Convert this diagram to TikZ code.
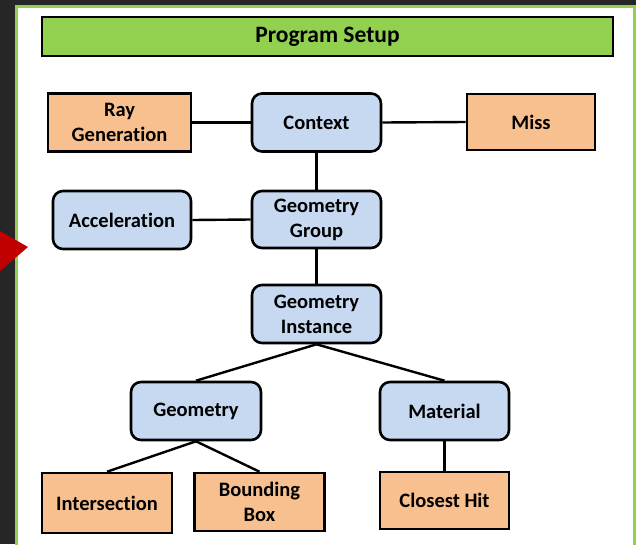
\documentclass[tikz,border=0pt]{standalone}
\usepackage{fontspec}
\setmainfont[Ligatures=NoCommon]{Carlito}
\definecolor{pagebg}{HTML}{262626}
\definecolor{framegreen}{HTML}{92D050}
\definecolor{boxorange}{HTML}{F9C08F}
\definecolor{boxblue}{HTML}{C6D9F0}
\definecolor{arrowred}{HTML}{C00000}
\begin{document}
\begin{tikzpicture}[x=1pt,y=-1pt,
  base/.style={draw=black, line width=2.6pt, inner sep=0pt, align=center,
    font=\fontsize{20.5}{25}\selectfont\bfseries},
  callbox/.style={base, fill=boxorange},
  objbox/.style={base, fill=boxblue, rounded corners=10pt},
  link/.style={line width=2.4pt, draw=black}]
% page and framed panel
\fill[pagebg] (0,0) rectangle (636,544);
\useasboundingbox (0,0) rectangle (636,544);
\filldraw[draw=framegreen, fill=white, line width=3pt] (16.5,6.5) rectangle (634.5,580);
\fill[arrowred] (0,231) -- (28,247) -- (0,271) -- cycle;
% title bar
\node[base, fill=framegreen, minimum width=571pt, minimum height=39pt,
  font=\fontsize{23.5}{28}\selectfont\bfseries] (title) at (327.5,36.5) {Program Setup};
% top row
\node[callbox, minimum width=143pt, minimum height=58pt] (raygen) at (119.5,122.5) {Ray\\Generation};
\node[objbox, minimum width=129pt, minimum height=58pt] (context) at (316.5,122.5) {Context};
\node[callbox, minimum width=128pt, minimum height=56pt] (miss) at (531,122) {Miss};
% group level
\node[objbox, minimum width=138pt, minimum height=58pt] (accel) at (122,220) {Acceleration};
\node[objbox, minimum width=129pt, minimum height=57pt] (ggroup) at (316.5,219.5) {Geometry\\Group};
\node[objbox, minimum width=129pt, minimum height=58pt] (ginst) at (316.5,314) {Geometry\\Instance};
% geometry and material
\node[objbox, minimum width=130pt, minimum height=58pt] (geom) at (196,411) {Geometry};
\node[objbox, minimum width=129pt, minimum height=58pt] (mat) at (444.5,411) {Material};
% programs
\node[callbox, minimum width=130pt, minimum height=60pt] (isect) at (107,503) {Intersection};
\node[callbox, minimum width=130pt, minimum height=58pt] (bbox) at (259.5,502) {Bounding\\Box};
\node[callbox, minimum width=129pt, minimum height=57pt] (chit) at (444.5,500.5) {Closest Hit};
% connectors
\draw[link] (raygen.east) -- (context.west);
\draw[link] (context.east) -- (miss.west);
\draw[link] (context.south) -- (ggroup.north);
\draw[link] (accel.east) -- (ggroup.west);
\draw[link] (ggroup.south) -- (ginst.north);
\draw[link] (ginst.south) -- (geom.north);
\draw[link] (ginst.south) -- (mat.north);
\draw[link] (geom.south) -- (isect.north);
\draw[link] (geom.south) -- (bbox.north);
\draw[link] (mat.south) -- (chit.north);
\end{tikzpicture}
\end{document}
